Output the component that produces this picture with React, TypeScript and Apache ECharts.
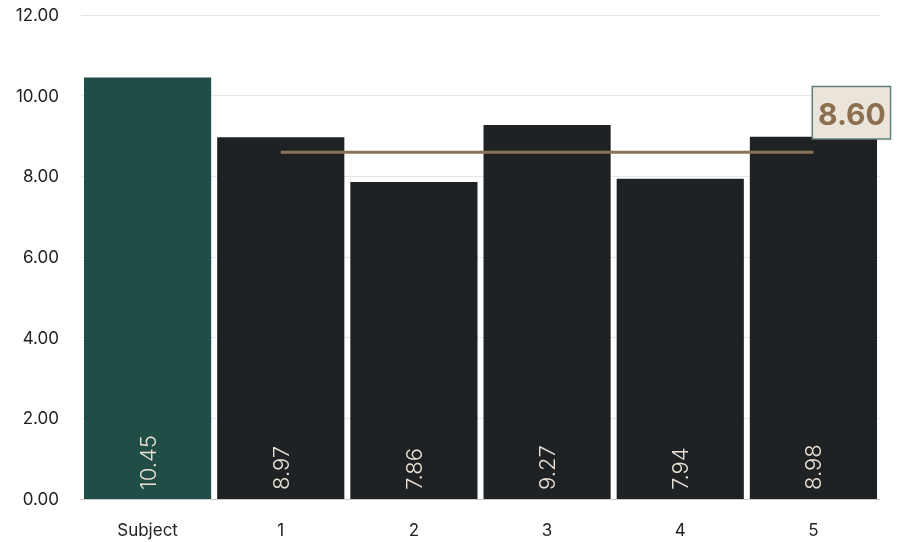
import React, { useEffect, useRef } from "react";
import * as echarts from "echarts";

const categories = ["Subject", "1", "2", "3", "4", "5"];
const values = [10.45, 8.97, 7.86, 9.27, 7.94, 8.98];
const average = 8.6;
const yTicks = { min: 0, max: 12, interval: 2 };

const FONT = "Inter, 'Noto Sans', sans-serif";

export default function App() {
  const ref = useRef<HTMLDivElement>(null);
  useEffect(() => {
    if (!ref.current) return;
    const chart = echarts.init(ref.current, undefined, { renderer: "svg" });
    const lineData = categories.map((_, i) => {
      if (i === 0) return null;
      if (i === categories.length - 1) {
        return {
          value: average,
          label: {
            show: true,
            position: "top",
            offset: [38, -9],
            formatter: (p: any) => Number(p.value).toFixed(2),
            fontFamily: FONT,
            fontSize: 30,
            fontWeight: "bold",
            color: "#8B6F4E",
            backgroundColor: "#EBE4DB",
            borderColor: "#5E8078",
            borderWidth: 1.5,
            padding: [12, 4, 9, 5],
          },
        };
      }
      return average;
    });
    chart.setOption({
      animation: false,
      grid: { left: 81, right: 25, top: 15, bottom: 43, containLabel: false },
      xAxis: {
        type: "category",
        data: categories,
        axisTick: { show: false },
        axisLine: { lineStyle: { color: "#CCCCCC", width: 1 } },
        axisLabel: { color: "#222222", fontSize: 17, fontFamily: FONT, margin: 22 },
      },
      yAxis: {
        type: "value",
        min: yTicks.min,
        max: yTicks.max,
        interval: yTicks.interval,
        axisLine: { show: false },
        axisTick: { show: false },
        splitLine: { lineStyle: { color: "#E6E6E6", width: 1 } },
        axisLabel: {
          color: "#222222",
          fontSize: 17,
          fontFamily: FONT,
          margin: 22,
          formatter: (v: number) => v.toFixed(2),
        },
      },
      series: [
        {
          type: "bar",
          data: values.map((v, i) => ({
            value: v,
            itemStyle: { color: i === 0 ? "#214D47" : "#1F2224" },
          })),
          barCategoryGap: "4.5%",
          label: {
            show: true,
            position: "insideBottom",
            rotate: 90,
            align: "left",
            verticalAlign: "middle",
            distance: 9,
            color: "#E8E0D5",
            fontSize: 22,
            fontWeight: 300,
            fontFamily: FONT,
            formatter: (p: any) => Number(p.value).toFixed(2),
          },
        },
        {
          type: "line",
          data: lineData,
          symbol: "circle",
          symbolSize: 0,
          showSymbol: true,
          lineStyle: { color: "#8B7355", width: 3 },
          itemStyle: { color: "#8B7355" },
          z: 5,
        },
      ],
    });
    return () => chart.dispose();
  }, []);
  return (
    <div
      ref={ref}
      style={{ position: "fixed", left: 0, top: 0, width: 905, height: 542 }}
    />
  );
}
